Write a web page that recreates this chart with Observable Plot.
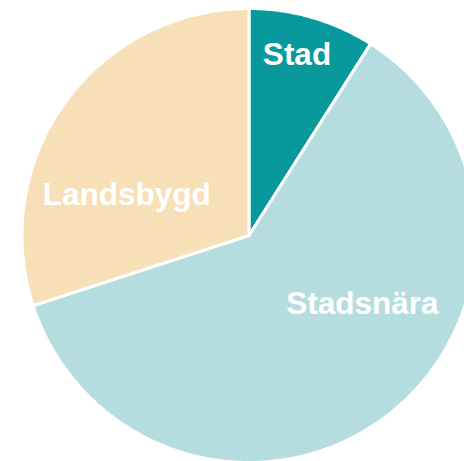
<!DOCTYPE html>
<html>
<head>
<meta charset="utf-8">
<script src="https://cdn.jsdelivr.net/npm/d3@7"></script>
<script src="https://cdn.jsdelivr.net/npm/@observablehq/plot@0.6"></script>
<style>
  html, body { margin: 0; padding: 0; background: #ffffff; overflow: hidden; }
  #chart svg { display: block; }
</style>
</head>
<body>
<div id="chart"></div>
<script>
// Data
const categories = ["Stad", "Stadsnära", "Landsbygd"];
const shares = [9, 61, 30];
const colors = ["#07999b", "#b5dde0", "#f7e0b7"];

const W = 464, H = 461;
const cx = 248.5, cy = 235, R = 227;

const pie = d3.pie().sort(null).value(d => d.value)(
  categories.map((c, i) => ({ category: c, value: shares[i], color: colors[i] }))
);

// polygon points for each slice (y up)
function slicePoints(a) {
  const pts = [{ x: 0, y: 0 }];
  const n = Math.max(8, Math.ceil((a.endAngle - a.startAngle) / 0.01));
  for (let k = 0; k <= n; k++) {
    const t = a.startAngle + (a.endAngle - a.startAngle) * k / n;
    pts.push({ x: R * Math.sin(t), y: R * Math.cos(t) });
  }
  pts.push({ x: 0, y: 0 });
  return pts;
}

function centroid(a, f) {
  const m = (a.startAngle + a.endAngle) / 2;
  return { x: f * R * Math.sin(m), y: f * R * Math.cos(m), label: a.data.category };
}

const nudges = { "Stad": [10, -50], "Stadsnära": [30, -39], "Landsbygd": [-12, 39] };

const marks = [];
pie.forEach(a => {
  marks.push(Plot.line(slicePoints(a), {
    x: "x", y: "y",
    fill: a.data.color,
    stroke: "#ffffff",
    strokeWidth: 3,
    strokeLinejoin: "round",
    curve: "linear"
  }));
});
pie.forEach(a => {
  const c = centroid(a, 0.6);
  const [dx, dy] = nudges[a.data.category];
  marks.push(Plot.text([c], {
    x: "x", y: "y", text: "label",
    dx, dy,
    fill: "#ffffff",
    fontSize: 31.5,
    fontWeight: "bold",
    fontFamily: "'Liberation Sans', Arial, sans-serif",
    textAnchor: "middle"
  }));
});

const chart = Plot.plot({
  width: W,
  height: H,
  margin: 0,
  style: { background: "#ffffff", overflow: "hidden" },
  x: { domain: [-cx, W - cx], range: [0, W], axis: null },
  y: { domain: [-(H - cy), cy], range: [H, 0], axis: null },
  marks
});
document.getElementById("chart").appendChild(chart);
</script>
</body>
</html>
